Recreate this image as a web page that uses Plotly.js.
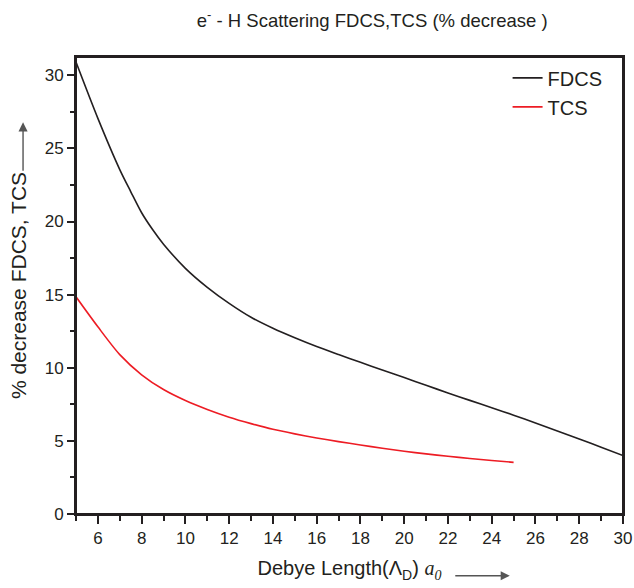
<!DOCTYPE html>
<html>
<head>
<meta charset="utf-8">
<script src="https://cdn.plot.ly/plotly-3.0.1.min.js"></script>
<style>
html,body{margin:0;padding:0;background:#fff;}
#wrap{position:relative;width:634px;height:588px;}
#chart{width:634px;height:588px;}
#frame{position:absolute;left:74px;top:55px;width:551px;height:460px;box-sizing:border-box;
  border-top:2px solid #231f20;border-right:2px solid #231f20;pointer-events:none;}
</style>
</head>
<body>
<div id="wrap">
<div id="chart"></div>
<div id="frame"></div>
</div>
<script>
// Debye length (a0)
const debyeFDCS = [5,6,7,7.5,8,8.5,9,10,11,12,13,14,15,16,17,18,19,20,21,22,23,24,25,26,27,28,29,30];
const fdcsDecrease = [30.9,27.05,23.55,22.05,20.6,19.45,18.45,16.8,15.5,14.4,13.45,12.7,12.05,11.45,10.9,10.37,9.85,9.33,8.8,8.28,7.77,7.27,6.76,6.23,5.68,5.13,4.57,4.0];
const debyeTCS = [5,6,7,8,9,10,11,12,13,14,15,16,17,18,19,20,21,22,23,24,25];
const tcsDecrease = [14.85,12.8,10.9,9.52,8.51,7.76,7.15,6.62,6.18,5.79,5.48,5.2,4.95,4.72,4.5,4.29,4.11,3.95,3.8,3.66,3.53];
const xTickStep = 2, yTickStep = 5;

const axisColor = '#231f20';
const font = 'Liberation Sans, Arial, sans-serif';

const traces = [
  {x: debyeFDCS, y: fdcsDecrease, name: 'FDCS', type: 'scatter', mode: 'lines',
   line: {color: '#231f20', width: 1.6, shape: 'spline', smoothing: 0.8}},
  {x: debyeTCS, y: tcsDecrease, name: 'TCS', type: 'scatter', mode: 'lines',
   line: {color: '#ed1c24', width: 1.6, shape: 'spline', smoothing: 0.8}}
];

const layout = {
  width: 634, height: 588,
  margin: {l: 76, r: 11, t: 57, b: 74},
  paper_bgcolor: '#ffffff', plot_bgcolor: '#ffffff',
  font: {family: font, color: '#231f20', size: 17},
  showlegend: true,
  title: {text: 'e<sup>-</sup> - H Scattering FDCS,TCS (% decrease )',
          font: {family: font, size: 18.5, color: '#231f20'},
          xref: 'container', x: 0.587, xanchor: 'center',
          yref: 'container', y: 0.965, yanchor: 'middle'},
  xaxis: {
    range: [5, 30], autorange: false, tick0: 0, dtick: xTickStep, showgrid: false, zeroline: false,
    showline: true, mirror: true, linecolor: axisColor, linewidth: 2,
    tickcolor: axisColor, tickwidth: 2, ticklen: 8, ticks: 'outside',
    minor: {dtick: 1, tick0: 0, ticklen: 5, tickwidth: 2, tickcolor: axisColor, ticks: 'outside', showgrid: false},
    tickfont: {family: font, size: 17, color: '#231f20'},
    title: {text: 'Debye Length(Λ<sub>D</sub>) <span style="font-family:Liberation Serif;font-style:italic">a<sub>0</sub></span>',
            font: {family: font, size: 20, color: '#231f20'}, standoff: 14}
  },
  yaxis: {
    range: [0, 31.25], autorange: false, tick0: 0, dtick: yTickStep, showgrid: false, zeroline: false,
    showline: true, mirror: true, linecolor: axisColor, linewidth: 2,
    tickcolor: axisColor, tickwidth: 2, ticklen: 7, ticks: 'outside',
    minor: {dtick: 2.5, tick0: 0, ticklen: 4, tickwidth: 2, tickcolor: axisColor, ticks: 'outside', showgrid: false},
    tickfont: {family: font, size: 17, color: '#231f20'},
    title: {text: '% decrease FDCS, TCS', font: {family: font, size: 21, color: '#231f20'}, standoff: 12}
  },
  shapes: [
    {type: 'rect', xref: 'paper', yref: 'paper', x0: 0, x1: 1, y0: 0, y1: 1,
     line: {color: axisColor, width: 2}, fillcolor: 'rgba(0,0,0,0)', layer: 'above'}
  ],
  legend: {x: 0.789, xanchor: 'left', y: 0.997, yanchor: 'top',
           bgcolor: 'rgba(0,0,0,0)', borderwidth: 0,
           font: {family: font, size: 20, color: '#231f20'}, tracegroupgap: 0},
  annotations: [
    {xref: 'paper', yref: 'paper', x: 0.793, y: -0.135, ax: -56, ay: 0, text: '',
     showarrow: true, arrowhead: 2, arrowsize: 1.3, arrowwidth: 1.4, arrowcolor: '#555555'},
    {xref: 'paper', yref: 'paper', x: -0.0968, y: 0.857, ax: 0, ay: 50, text: '',
     showarrow: true, arrowhead: 2, arrowsize: 1.3, arrowwidth: 1.4, arrowcolor: '#555555'}
  ]
};

Plotly.newPlot('chart', traces, layout, {displayModeBar: false, staticPlot: true});
</script>
</body>
</html>
